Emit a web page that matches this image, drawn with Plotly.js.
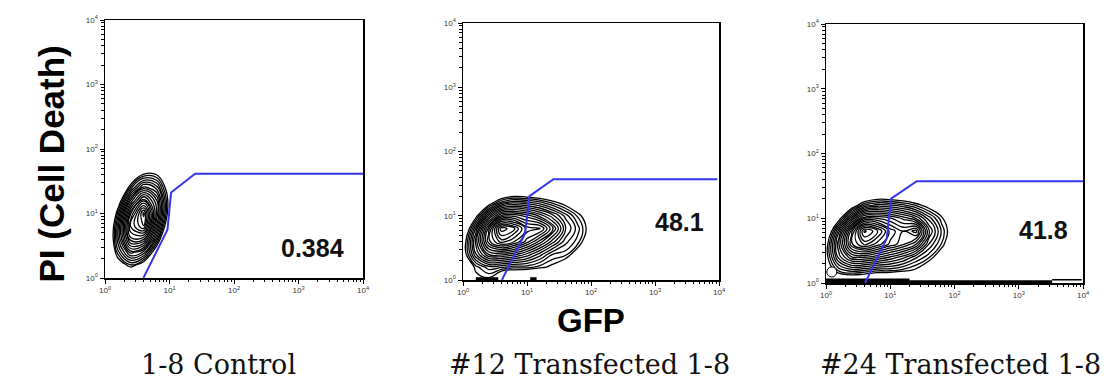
<!DOCTYPE html>
<html>
<head>
<meta charset="utf-8">
<script src="https://cdn.plot.ly/plotly-3.0.1.min.js"></script>
<style>html,body{margin:0;padding:0;background:#fff;}#chart{width:1117px;height:381px;}</style>
</head>
<body>
<div id="chart"></div>
<script>
// ---- data (log10 units) ----
var panelTitles = ["1-8 Control", "#12 Transfected 1-8", "#24 Transfected 1-8"];
var gatePercents = ["0.384", "48.1", "41.8"];
var tickLabels = ["10<sup>0</sup>", "10<sup>1</sup>", "10<sup>2</sup>", "10<sup>3</sup>", "10<sup>4</sup>"];

// panel 1 density grid (contour ring estimates)
var p1X = [-0.2, 0, 0.2, 0.4, 0.6, 0.8, 1.0, 1.2];
var p1Y = [0, 0.2, 0.4, 0.6, 0.8, 1.0, 1.2, 1.4, 1.6, 1.8];
var p1Z = [
  [-10.6, -6.5, -3.6, -2.8, -4.3, -7.6, -12.0, -17.0],
  [-9.6, -4.8, -1.1, 0.5, -0.9, -4.4, -9.1, -14.3],
  [-9.2, -3.8, 0.9, 3.6, 2.6, -1.3, -6.4, -12.0],
  [-9.3, -3.5, 2.0, 6.4, 6.1, 1.5, -4.1, -9.9],
  [-10.0, -4.0, 2.0, 7.8, 9.3, 3.7, -2.2, -8.2],
  [-11.2, -5.2, 0.8, 6.6, 10.1, 4.9, -1.0, -7.0],
  [-12.8, -7.0, -1.3, 4.0, 7.1, 4.5, -0.7, -6.4],
  [-14.8, -9.2, -3.8, 0.9, 3.6, 2.6, -1.3, -6.4],
  [-17.0, -11.7, -6.7, -2.4, 0.2, 0.0, -2.8, -7.2],
  [-19.6, -14.4, -9.7, -5.8, -3.3, -2.9, -4.9, -8.4]
];

// panels 2 & 3 grid
var p23X = [-0.2, 0, 0.2, 0.4, 0.6, 0.8, 1.0, 1.2, 1.4, 1.6, 1.8, 2.0, 2.2];
var p23Y = [-0.2, 0, 0.2, 0.4, 0.6, 0.8, 1.0, 1.2, 1.4, 1.6];
var p2Z = [
  [-9.3, -7.4, -6.5, -6.4, -6.6, -7.0, -7.6, -8.3, -9.1, -10.1, -11.2, -12.4, -13.6],
  [-7.1, -4.5, -0.5, -0.3, -2.7, -3.1, -3.8, -4.6, -5.5, -6.6, -7.8, -9.1, -10.5],
  [-5.6, -2.2, 0.3, 1.4, 1.2, 0.8, 0.8, 0.3, -0.3, -1.5, -4.7, -6.2, -7.7],
  [-5.0, -0.9, 2.7, 5.0, 5.1, 4.6, 3.7, 2.5, 1.1, 0.8, -1.0, -3.6, -5.3],
  [-5.5, -1.0, 3.5, 7.5, 9.1, 8.3, 6.9, 5.3, 3.6, 1.9, 0.8, -1.7, -3.5],
  [-6.9, -2.3, 2.3, 6.9, 10.8, 10.0, 8.0, 7.9, 5.6, 2.9, 1.3, -0.8, -2.7],
  [-9.2, -4.8, -0.5, 3.4, 6.2, 6.4, 5.8, 4.8, 3.5, 2.0, 0.4, -1.3, -3.0],
  [-12.2, -8.0, -4.2, -0.8, 1.5, 2.2, 1.9, 1.4, 0.5, -0.5, -1.7, -3.1, -4.5],
  [-15.6, -11.8, -8.3, -5.3, -3.1, -2.2, -2.3, -2.6, -3.1, -3.9, -4.8, -5.8, -7.0],
  [-19.4, -15.8, -12.6, -9.8, -7.8, -6.7, -6.6, -6.8, -7.1, -7.6, -8.3, -9.2, -10.1]
];
var p3Z = [
  [-9.3, -7.4, -6.5, -6.4, -6.6, -7.0, -7.6, -8.3, -9.1, -10.1, -11.2, -12.4, -13.6],
  [-7.1, -4.0, -2.5, -2.5, -2.7, -3.1, -3.8, -4.6, -5.5, -6.6, -7.8, -9.1, -10.5],
  [-5.0, -1.2, 0.8, 1.5, 1.2, 0.8, 0.8, 0.4, -0.2, -1.6, -4.8, -6.3, -7.8],
  [-4.5, -0.5, 3.0, 4.9, 5.0, 4.5, 3.8, 3.0, 1.8, 0.7, -1.2, -3.8, -5.5],
  [-5.0, -0.6, 3.8, 7.6, 9.0, 8.0, 7.0, 6.2, 5.0, 2.2, 0.5, -2.0, -3.8],
  [-6.6, -2.0, 2.6, 7.0, 10.6, 9.5, 7.5, 6.6, 7.4, 3.4, 1.0, -1.2, -3.0],
  [-9.2, -4.8, -0.6, 3.2, 6.0, 6.0, 5.6, 4.8, 3.8, 2.0, 0.2, -1.6, -3.3],
  [-12.2, -8.0, -4.3, -1.0, 1.2, 1.9, 1.7, 1.3, 0.5, -0.6, -1.9, -3.3, -4.7],
  [-15.6, -11.8, -8.3, -5.3, -3.1, -2.2, -2.3, -2.6, -3.1, -3.9, -4.8, -5.8, -7.0],
  [-19.4, -15.8, -12.6, -9.8, -7.8, -6.7, -6.6, -6.8, -7.1, -7.6, -8.3, -9.2, -10.1]
];

// gates
var gate1X = [0.595, 0.968, 1.025, 1.397, 4.0];
var gate1Y = [0, 0.748, 1.327, 1.615, 1.615];
var gate2X = [0.608, 0.971, 1.039, 1.413, 3.974];
var gate2Y = [0, 0.725, 1.306, 1.570, 1.570];
var gate3X = [0.608, 0.945, 1.013, 1.413, 4.0];
var gate3Y = [0, 0.686, 1.304, 1.572, 1.572];

// events piled on the axis
var p2EdgeAX = [0.2, 0.55], p2EdgeAY = [0.02, 0.02];
var p2EdgeBX = [1.05, 1.15], p2EdgeBY = [0.02, 0.02];
var p3EdgeAX = [0.0, 1.3], p3EdgeAY = [0.03, 0.03];
var p3EdgeBX = [0.0, 3.52], p3EdgeBY = [0.02, 0.02];
var p3EdgeCX = [3.52, 3.98], p3EdgeCY = [0.05, 0.05];
var p3BlobX = [0.09], p3BlobY = [0.17];

// percentage label positions
var pctX = [3.22, 3.39, 3.38];
var pctY = [0.465, 0.90, 0.82];

// ---- build ----
var minorVals = [];
for (var d = 0; d < 4; d++) for (var k = 2; k <= 9; k++) minorVals.push(d + Math.log10(k));

var gateColor = '#3535ee';
function contour(x, y, z, xa, ya) {
  return {type: 'contour', x: x, y: y, z: z, xaxis: xa, yaxis: ya, showscale: false,
    contours: {coloring: 'none', start: 0, end: 11, size: 0.55},
    line: {color: '#000', width: 1.3, smoothing: 1.3}, hoverinfo: 'skip'};
}
function line(x, y, xa, ya, color, width) {
  return {type: 'scatter', mode: 'lines', x: x, y: y, xaxis: xa, yaxis: ya,
    line: {color: color, width: width}, hoverinfo: 'skip', showlegend: false, cliponaxis: true};
}

var data = [
  contour(p1X, p1Y, p1Z, 'x', 'y'),
  contour(p23X, p23Y, p2Z, 'x2', 'y2'),
  contour(p23X, p23Y, p3Z, 'x3', 'y3'),
  line(p2EdgeAX, p2EdgeAY, 'x2', 'y2', '#000', 3),
  line(p2EdgeBX, p2EdgeBY, 'x2', 'y2', '#000', 3),
  line(p3EdgeAX, p3EdgeAY, 'x3', 'y3', '#000', 5),
  line(p3EdgeBX, p3EdgeBY, 'x3', 'y3', '#000', 3),
  line(p3EdgeCX, p3EdgeCY, 'x3', 'y3', '#000', 1.5),
  {type: 'scatter', mode: 'markers', x: p3BlobX, y: p3BlobY, xaxis: 'x3', yaxis: 'y3',
   marker: {size: 10, color: '#fff', line: {color: '#000', width: 1}}, hoverinfo: 'skip', showlegend: false},
  line(gate1X, gate1Y, 'x', 'y', gateColor, 2),
  line(gate2X, gate2Y, 'x2', 'y2', gateColor, 2),
  line(gate3X, gate3Y, 'x3', 'y3', gateColor, 2)
];

function axis(domain, anchor) {
  return {domain: domain, anchor: anchor, range: [0, 4], fixedrange: true,
    showline: true, linecolor: '#000', linewidth: 1.5, mirror: true,
    showgrid: false, zeroline: false,
    tickmode: 'array', tickvals: [0, 1, 2, 3, 4], ticktext: tickLabels,
    ticks: 'outside', ticklen: 4, tickwidth: 1, tickcolor: '#000',
    tickfont: {family: 'Liberation Sans, Arial', size: 8, color: '#333'},
    minor: {tickmode: 'array', tickvals: minorVals, ticks: 'outside', ticklen: 2.5, tickwidth: 1, tickcolor: '#000', showgrid: false}};
}

var W = 1117, H = 381;
function xd(a, b) { return [a / W, b / W]; }
function yd(top, bot) { return [1 - bot / H, 1 - top / H]; }

var annotations = [];
var capX = [218, 589, 960];
for (var i = 0; i < 3; i++) {
  annotations.push({xref: 'paper', yref: 'paper', x: capX[i] / W, y: 1 - 364 / H, text: panelTitles[i],
    showarrow: false, xanchor: 'center', yanchor: 'middle', borderpad: 0,
    font: {family: 'DejaVu Serif', size: 27, color: '#111'}});
  annotations.push({xref: i === 0 ? 'x' : 'x' + (i + 1), yref: i === 0 ? 'y' : 'y' + (i + 1),
    x: pctX[i], y: pctY[i], text: '<b>' + gatePercents[i] + '</b>', showarrow: false,
    font: {family: 'Liberation Sans, Arial', size: 25, color: '#111'}});
}
annotations.push({xref: 'paper', yref: 'paper', x: 591 / W, y: 1 - 340 / H, text: '<b>GFP</b>',
  showarrow: false, borderpad: 0, font: {family: 'Liberation Sans, Arial', size: 33, color: '#000'}});
annotations.push({xref: 'paper', yref: 'paper', x: 29 / W, y: 1 - 164 / H, text: '<b>PI (Cell Death)</b>',
  showarrow: false, textangle: -90, font: {family: 'Liberation Sans, Arial', size: 35, color: '#000'}});

var layout = {
  width: W, height: H, margin: {l: 0, r: 0, t: 0, b: 0},
  paper_bgcolor: '#fff', plot_bgcolor: '#fff', showlegend: false,
  xaxis: axis(xd(105, 363), 'y'), yaxis: axis(yd(20, 278), 'x'),
  xaxis2: axis(xd(463, 719), 'y2'), yaxis2: axis(yd(23, 280), 'x2'),
  xaxis3: axis(xd(826, 1083), 'y3'), yaxis3: axis(yd(24, 283), 'x3'),
  annotations: annotations
};

Plotly.newPlot('chart', data, layout, {staticPlot: true, displayModeBar: false});
</script>
</body>
</html>
